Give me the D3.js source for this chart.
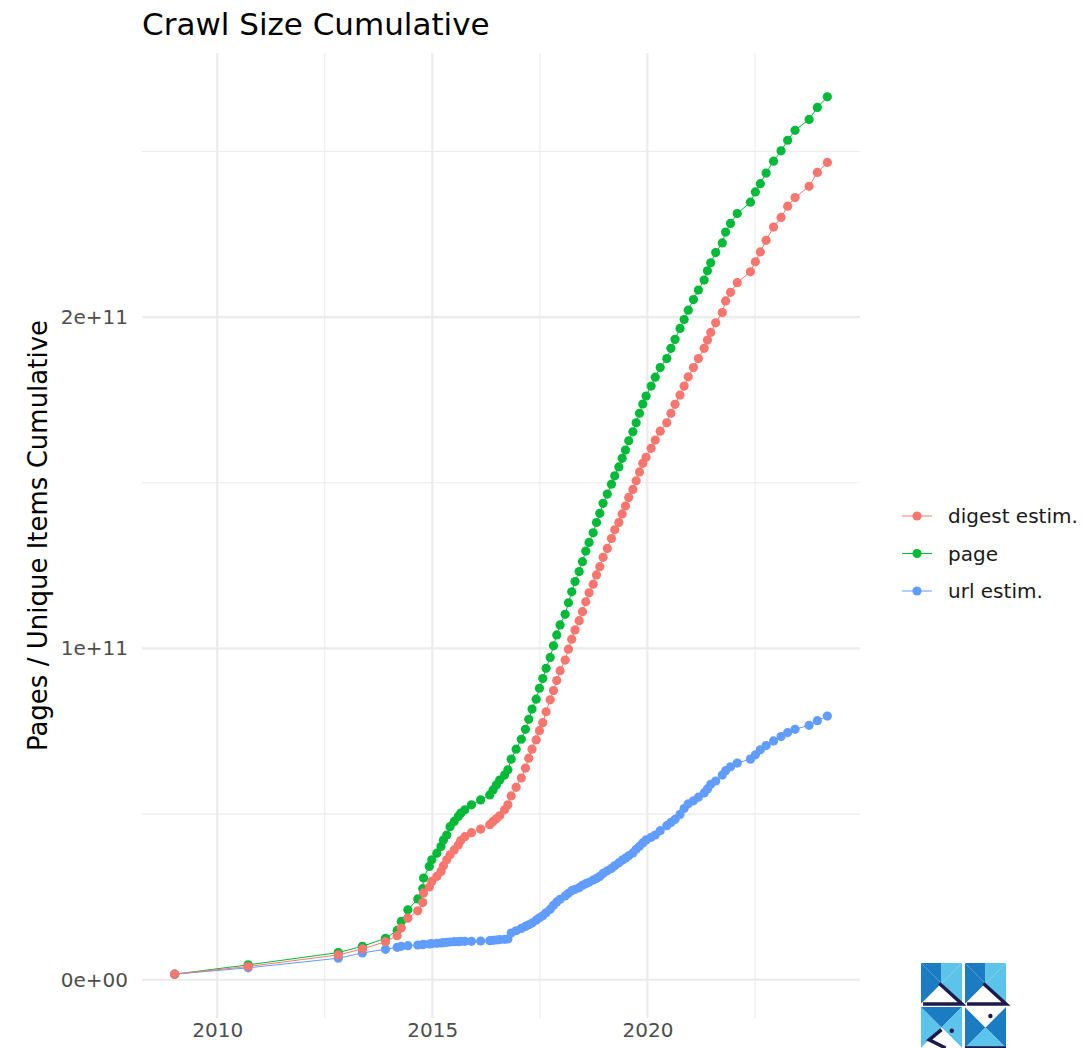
<!DOCTYPE html>
<html>
<head>
<meta charset="utf-8">
<script src="https://cdn.jsdelivr.net/npm/d3@7"></script>
<style>
  body { margin: 0; background: #fff; }
  svg { display: block; }
  text { font-family: "DejaVu Sans", sans-serif; }
</style>
</head>
<body>
<svg id="chart" width="1084" height="1048"></svg>
<script>
// Crawl identifiers (year-week) in chronological order
const crawls = [
  "2009-01","2010-38","2012-43","2013-20","2013-48",
  "2014-10","2014-15","2014-23","2014-35","2014-41","2014-42","2014-49","2014-52",
  "2015-06","2015-11","2015-14","2015-18","2015-22","2015-27","2015-32","2015-35","2015-40","2015-48",
  "2016-07","2016-18","2016-22","2016-26","2016-30","2016-36","2016-40","2016-44","2016-50",
  "2017-04","2017-09","2017-13","2017-17","2017-22","2017-26","2017-30","2017-34","2017-39","2017-43","2017-47","2017-51",
  "2018-05","2018-09","2018-13","2018-17","2018-22","2018-26","2018-30","2018-34","2018-39","2018-43","2018-47","2018-51",
  "2019-04","2019-09","2019-13","2019-18","2019-22","2019-26","2019-30","2019-35","2019-39","2019-43","2019-47","2019-51",
  "2020-05","2020-10","2020-16","2020-24","2020-29","2020-34","2020-40","2020-45","2020-50",
  "2021-04","2021-10","2021-17","2021-21","2021-25","2021-31","2021-39","2021-43","2021-49",
  "2022-05","2022-21","2022-27","2022-33","2022-40","2022-49",
  "2023-06","2023-14","2023-23","2023-40","2023-50",
  "2024-10"
];

// Cumulative counts, in billions
const pageCum = [
  1.7,4.5,8.2,10.1,12.5,14.9,17.6,21.1,24.4,27.5,
  30.7,34.2,36.2,38.2,40.2,42.2,43.7,46.2,47.8,49.3,
  50.3,51.3,52.8,54.3,55.8,57.3,58.8,60.3,61.8,63.4,
  66.6,69.6,72.6,75.6,78.6,81.7,84.7,88.0,90.9,94.0,
  97.3,100.8,104.1,107.1,110.3,113.8,117.1,120.2,123.2,126.2,
  129.4,132.0,134.9,138.0,140.8,143.8,146.6,149.6,152.1,154.8,
  157.4,159.9,162.7,165.4,168.1,171.0,173.8,176.2,179.2,181.9,
  184.8,187.5,190.6,193.3,196.6,199.3,202.1,205.3,208.2,211.2,
  214.0,216.4,219.5,222.4,225.7,228.3,231.3,234.7,237.8,240.3,
  243.5,247.1,250.2,253.4,256.4,259.7,263.3,266.5
];
const digestCum = [
  1.7,4.0,7.5,9.3,11.5,13.3,15.6,18.6,20.8,23.3,
  26.2,28.0,29.7,31.2,32.7,34.4,36.2,37.7,39.2,40.7,
  42.0,43.2,44.4,45.5,46.8,47.8,48.6,49.5,51.3,52.8,
  55.5,58.1,60.9,63.9,66.9,69.6,72.4,75.2,77.6,80.9,
  84.5,87.3,90.3,93.3,96.5,99.8,102.8,105.6,108.4,111.1,
  114.1,116.8,119.4,122.2,124.7,127.5,130.2,133.2,135.8,138.0,
  140.6,143.0,145.6,148.0,150.6,153.3,155.9,157.7,160.4,162.9,
  165.6,168.1,171.0,173.7,176.5,179.2,182.0,184.8,187.5,190.6,
  193.1,195.4,198.3,201.4,204.9,207.5,210.4,213.7,216.7,219.7,
  223.2,227.2,230.1,233.5,236.1,239.5,243.7,246.7
];
const urlCum = [
  1.7,3.6,6.5,8.1,9.2,9.8,10.1,10.3,10.5,10.6,
  10.7,10.8,10.9,11.0,11.1,11.2,11.3,11.4,11.5,11.5,
  11.6,11.6,11.6,11.7,11.8,11.9,12.0,12.1,12.2,12.3,
  14.1,14.8,15.5,16.1,16.6,17.1,18.0,18.7,19.3,20.2,
  21.3,22.5,23.5,24.3,25.3,26.1,26.9,27.3,27.8,28.5,
  29.0,29.4,30.1,30.6,31.2,32.1,32.9,33.6,34.4,35.3,
  36.1,36.7,37.4,38.3,39.4,40.3,41.3,42.2,43.0,43.7,
  45.0,46.5,47.5,48.4,49.9,51.7,53.1,54.0,55.1,56.4,
  57.6,59.0,60.0,61.8,63.1,64.3,65.4,66.6,67.9,69.4,
  70.7,72.1,73.4,74.6,75.6,76.8,78.2,79.6
];
const UNIT = 1e9;

const seriesNames  = ["digest estim.", "page", "url estim."];
const seriesColors = ["#F8766D", "#00BA38", "#619CFF"];

const xTickYears  = [2010, 2015, 2020];
const yTickValues = [0, 1e11, 2e11];
const yTickLabels = ["0e+00", "1e+11", "2e+11"];

const titleText  = "Crawl Size Cumulative";
const yTitleText = "Pages / Unique Items Cumulative";

// ---------------------------------------------------------------
const svg = d3.select("#chart");
const panel = { left: 142, right: 860, top: 53, bottom: 1018 };
const pointRadius = 4.6;

// a crawl "YYYY-WW" sits in the middle of its week
const crawlDate = id => {
  const [yr, wk] = id.split("-").map(Number);
  return new Date(Date.UTC(yr, 0, 1) + (wk - 0.5) * 7 * 864e5);
};
const dates = crawls.map(crawlDate);

const valuesByName = { "digest estim.": digestCum, "page": pageCum, "url estim.": urlCum };
const colorOf = name => seriesColors[seriesNames.indexOf(name)];

// drawing order: page, url, digest (digest ends up on top)
const drawOrder = ["page", "url estim.", "digest estim."];
const series = drawOrder.map(name => ({
  name,
  color: colorOf(name),
  points: valuesByName[name].map((v, i) => ({ date: dates[i], value: v * UNIT }))
}));

// 5% padding on both ends of each continuous scale
const xExt = d3.extent(dates);
const xPad = (xExt[1] - xExt[0]) * 0.05;
const x = d3.scaleUtc()
  .domain([new Date(+xExt[0] - xPad), new Date(+xExt[1] + xPad)])
  .range([panel.left, panel.right]);

const yExt = d3.extent(series.flatMap(s => s.points.map(p => p.value)));
const yPad = (yExt[1] - yExt[0]) * 0.05;
const y = d3.scaleLinear()
  .domain([yExt[0] - yPad, yExt[1] + yPad])
  .range([panel.bottom, panel.top]);

// ---- grid -------------------------------------------------------
const grid = svg.append("g");
const xMajor = xTickYears.map(yr => new Date(Date.UTC(yr, 0, 1)));
const xStep = +xMajor[1] - +xMajor[0];
const xMinor = [];
for (let i = -1; i < xMajor.length; i++) {
  const t = new Date(+xMajor[0] + (i + 0.5) * xStep);
  if (t >= x.domain()[0] && t <= x.domain()[1]) xMinor.push(t);
}
const yStep = yTickValues[1] - yTickValues[0];
const yMinor = [];
for (let i = -1; i < yTickValues.length + 1; i++) {
  const v = yTickValues[0] + (i + 0.5) * yStep;
  if (v >= y.domain()[0] && v <= y.domain()[1]) yMinor.push(v);
}

grid.selectAll(".ymin").data(yMinor).join("line")
  .attr("x1", panel.left).attr("x2", panel.right)
  .attr("y1", d => y(d)).attr("y2", d => y(d))
  .attr("stroke", "#ebebeb").attr("stroke-width", 1.1);
grid.selectAll(".xmin").data(xMinor).join("line")
  .attr("y1", panel.top).attr("y2", panel.bottom)
  .attr("x1", d => x(d)).attr("x2", d => x(d))
  .attr("stroke", "#ebebeb").attr("stroke-width", 1.1);
grid.selectAll(".ymaj").data(yTickValues).join("line")
  .attr("x1", panel.left).attr("x2", panel.right)
  .attr("y1", d => y(d)).attr("y2", d => y(d))
  .attr("stroke", "#ebebeb").attr("stroke-width", 2.2);
grid.selectAll(".xmaj").data(xMajor).join("line")
  .attr("y1", panel.top).attr("y2", panel.bottom)
  .attr("x1", d => x(d)).attr("x2", d => x(d))
  .attr("stroke", "#ebebeb").attr("stroke-width", 2.2);

// ---- axes -------------------------------------------------------
const xAxis = svg.append("g")
  .attr("transform", `translate(0,${panel.bottom})`)
  .call(d3.axisBottom(x).tickValues(xMajor).tickFormat(d3.utcFormat("%Y")).tickSize(0).tickPadding(5));
const yAxis = svg.append("g")
  .attr("transform", `translate(${panel.left},0)`)
  .call(d3.axisLeft(y).tickValues(yTickValues)
    .tickFormat((d, i) => yTickLabels[i]).tickSize(0).tickPadding(14));
[xAxis, yAxis].forEach(g => {
  g.select(".domain").remove();
  g.selectAll("text").attr("font-family", "DejaVu Sans").attr("font-size", 20).attr("fill", "#4d4d4d");
});

// ---- series -----------------------------------------------------
const line = d3.line().x(d => x(d.date)).y(d => y(d.value));
svg.append("g").selectAll("path").data(series).join("path")
  .attr("d", s => line(s.points))
  .attr("fill", "none")
  .attr("stroke", s => s.color)
  .attr("stroke-width", 1);

svg.append("g").selectAll("g").data(series).join("g")
  .attr("fill", s => s.color)
  .selectAll("circle").data(s => s.points).join("circle")
  .attr("cx", d => x(d.date))
  .attr("cy", d => y(d.value))
  .attr("r", pointRadius);

// ---- titles -----------------------------------------------------
svg.append("text")
  .attr("x", panel.left).attr("y", 35)
  .attr("font-size", 31).attr("fill", "#000")
  .text(titleText);

svg.append("text")
  .attr("transform", `translate(47,${(panel.top + panel.bottom) / 2}) rotate(-90)`)
  .attr("text-anchor", "middle")
  .attr("font-size", 26).attr("fill", "#000")
  .text(yTitleText);

// ---- legend -----------------------------------------------------
const legend = svg.append("g").attr("transform", "translate(902,516)");
const rows = legend.selectAll("g").data(seriesNames).join("g")
  .attr("transform", (d, i) => `translate(0,${i * 37.5})`);
rows.append("line")
  .attr("x1", 0).attr("x2", 30).attr("y1", 0).attr("y2", 0)
  .attr("stroke", d => colorOf(d)).attr("stroke-width", 1);
rows.append("circle")
  .attr("cx", 15).attr("cy", 0).attr("r", pointRadius)
  .attr("fill", d => colorOf(d));
rows.append("text")
  .attr("x", 46).attr("y", 0).attr("dy", "0.35em")
  .attr("font-size", 20).attr("fill", "#1a1a1a")
  .text(d => d);

// ---- badge (bottom right) --------------------------------------
const dark = "#1c7cc2", light = "#5cc3ea", navy = "#1d1a4c", white = "#ffffff";
const tiles = [
  { col: 0, row: 0, parts: [
    [[0,0],[0.5,0.5],[0,1], dark], [[0,0],[0.5,0],[0.5,0.5], dark],
    [[0.5,0],[1,0],[0.5,0.5], light], [[1,0],[1,1],[0.5,0.5], light],
    [[0,1],[1,1],[0.5,0.5], white]],
    strokes: [[[0.45,0.5],[1,1],[0.05,1]]], dots: [] },
  { col: 1, row: 0, parts: [
    [[0,0],[0.5,0.5],[0,1], dark], [[0,0],[0.5,0],[0.5,0.5], dark],
    [[0.5,0],[1,0],[0.5,0.5], light], [[1,0],[1,1],[0.5,0.5], light],
    [[0,1],[1,1],[0.5,0.5], white]],
    strokes: [[[0.45,0.5],[1,1],[0.05,1]]], dots: [] },
  { col: 0, row: 1, parts: [
    [[0,0],[0.5,0.5],[0,1], light], [[0,0],[1,0],[0.5,0.5], dark],
    [[1,0],[1,1],[0.5,0.5], light], [[0,1],[1,1],[0.5,0.5], white]],
    strokes: [[[0.5,0.55],[0.2,0.8],[0.6,1]]], dots: [[0.75,0.58]] },
  { col: 1, row: 1, parts: [
    [[0,0],[0.5,0.5],[0,1], dark], [[0,0],[1,0],[0.5,0.5], white],
    [[1,0],[1,1],[0.5,0.5], dark], [[0,1],[1,1],[0.5,0.5], light]],
    strokes: [[[0,1],[1,1]]], dots: [[0.62,0.22]] }
];
const tileSize = 41, tileGap = 3;
const badge = svg.append("g").attr("transform", "translate(921,963)");
tiles.forEach(t => {
  const g = badge.append("g")
    .attr("transform", `translate(${t.col * (tileSize + tileGap)},${t.row * (tileSize + tileGap)})`);
  t.parts.forEach(p => {
    const pts = p.slice(0, 3).map(([a, b]) => [a * tileSize, b * tileSize].join(",")).join(" ");
    g.append("polygon").attr("points", pts).attr("fill", p[3]);
  });
  t.strokes.forEach(s => {
    g.append("polyline")
      .attr("points", s.map(([a, b]) => [a * tileSize, b * tileSize].join(",")).join(" "))
      .attr("fill", "none").attr("stroke", navy).attr("stroke-width", 3.5);
  });
  t.dots.forEach(([a, b]) => {
    g.append("circle").attr("cx", a * tileSize).attr("cy", b * tileSize).attr("r", 2.2).attr("fill", navy);
  });
});
</script>
</body>
</html>
